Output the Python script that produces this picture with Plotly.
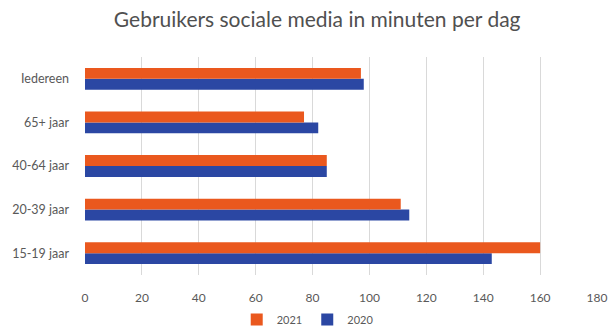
import plotly.graph_objects as go

categories = ["15-19 jaar", "20-39 jaar", "40-64 jaar", "65+ jaar", "Iedereen"]
values_2020 = [143, 114, 85, 82, 98]
values_2021 = [160, 111, 85, 77, 97]
x_ticks = [0, 20, 40, 60, 80, 100, 120, 140, 160, 180]

fig = go.Figure()
fig.add_trace(go.Bar(y=categories, x=values_2020, name="2020", orientation="h",
                     marker=dict(color="#2B47A3", line=dict(width=0))))
fig.add_trace(go.Bar(y=categories, x=values_2021, name="2021", orientation="h",
                     marker=dict(color="#EA581E", line=dict(width=0))))

fig.update_layout(
    width=610, height=334,
    margin=dict(l=85, r=13, t=57, b=59),
    paper_bgcolor="white", plot_bgcolor="white",
    font=dict(family="Lato, Open Sans, sans-serif", color="#595959", size=11),
    title=dict(text="Gebruikers sociale media in minuten per dag",
               x=0.52, xanchor="center", y=0.94, yanchor="middle",
               font=dict(size=21, color="#505050")),
    barmode="group", bargap=0.5, bargroupgap=0,
    legend=dict(orientation="h", x=0.435, xanchor="center", yref="container",
                y=-0.03, yanchor="bottom", traceorder="reversed",
                font=dict(size=11, color="#595959"), itemwidth=30,
                tracegroupgap=0),
    xaxis=dict(range=[0, 180], tickvals=x_ticks, showgrid=True, gridcolor="#d9d9d9",
               gridwidth=1, zeroline=False, showline=False, ticks="",
               ticklabelstandoff=14, automargin=False, tickfont=dict(size=12)),
    yaxis=dict(showgrid=False, zeroline=False, showline=False, ticks="",
               ticklabelstandoff=15, categoryorder="array", categoryarray=categories,
               automargin=False, tickfont=dict(size=12.5)),
)

fig.write_html("out.html", config={"displayModeBar": False},
               post_script="document.body.style.margin='0';document.body.style.overflow='hidden';")
